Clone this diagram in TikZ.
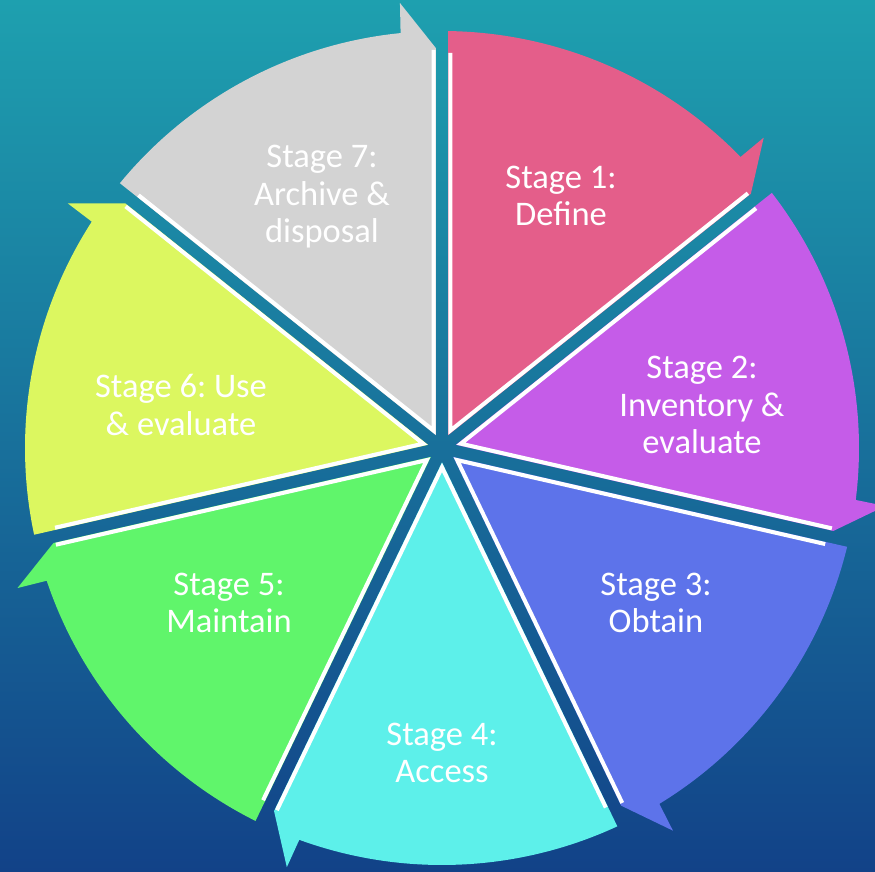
\documentclass[tikz,border=0pt]{standalone}
\usepackage{fontspec}
\setmainfont{Carlito}
\frenchspacing
\usetikzlibrary{calc}
\definecolor{bgtop}{RGB}{30,160,175}
\definecolor{bgmid}{RGB}{24,112,154}
\definecolor{bgbot}{RGB}{18,66,136}
\definecolor{c1}{RGB}{228,94,138}
\definecolor{c2}{RGB}{197,92,232}
\definecolor{c3}{RGB}{93,115,234}
\definecolor{c4}{RGB}{93,240,234}
\definecolor{c5}{RGB}{96,245,107}
\definecolor{c6}{RGB}{220,247,96}
\definecolor{c7}{RGB}{211,211,211}
\tikzset{
  lbl/.style={text=white, align=center, font=\fontsize{34.5}{37.5}\selectfont, inner sep=0pt},
  edgeline/.style={white, line width=4pt, line join=miter}
}
\begin{document}
\begin{tikzpicture}[x=1pt,y=1pt]
\useasboundingbox (0,0) rectangle (875,872);
\shade[top color=bgtop, middle color=bgmid, bottom color=bgbot] (0,0) rectangle (875,872);
\begin{scope}[shift={(442,424)}]
\foreach \k/\col in {0/c1,1/c2,2/c3,3/c4,4/c5,5/c6,6/c7}{
  \pgfmathsetmacro\aa{90-360/7*\k}
  \pgfmathsetmacro\ab{\aa-360/7}
  \pgfmathsetmacro\am{\aa-180/7}
  \pgfmathsetmacro\sa{\aa-0.852}
  \pgfmathsetmacro\ea{\ab+5.7}
  \pgfmathsetmacro\ta{\ab+5.4}
  \fill[\col] (\am:14.29) -- (\sa:417) arc[start angle=\sa, end angle=\ea, radius=417]
     -- (\ta:447) -- ($(\ab:400)+(\ab+90:6.2)$) -- cycle;
  \draw[edgeline] ($(\aa:395)+(\aa-90:8.4)$) -- (\am:19.4) -- ($(\ab:398)+(\ab+90:8.4)$);
}
\end{scope}
\node[lbl] (s1) at (561,676) {Stage 1:\\Define};
\node[lbl] (s2) at (702,467) {Stage 2:\\Inventory \&\\evaluate};
\node[lbl] (s3) at (656,269) {Stage 3:\\Obtain};
\node[lbl] (s4) at (442,119) {Stage 4:\\Access};
\node[lbl] (s5) at (229,269) {Stage 5:\\Maintain};
\node[lbl] (s6) at (181,467) {Stage 6: Use\\\& evaluate};
\node[lbl] (s7) at (322,675) {Stage 7:\\Archive \&\\disposal};
\end{tikzpicture}
\end{document}
